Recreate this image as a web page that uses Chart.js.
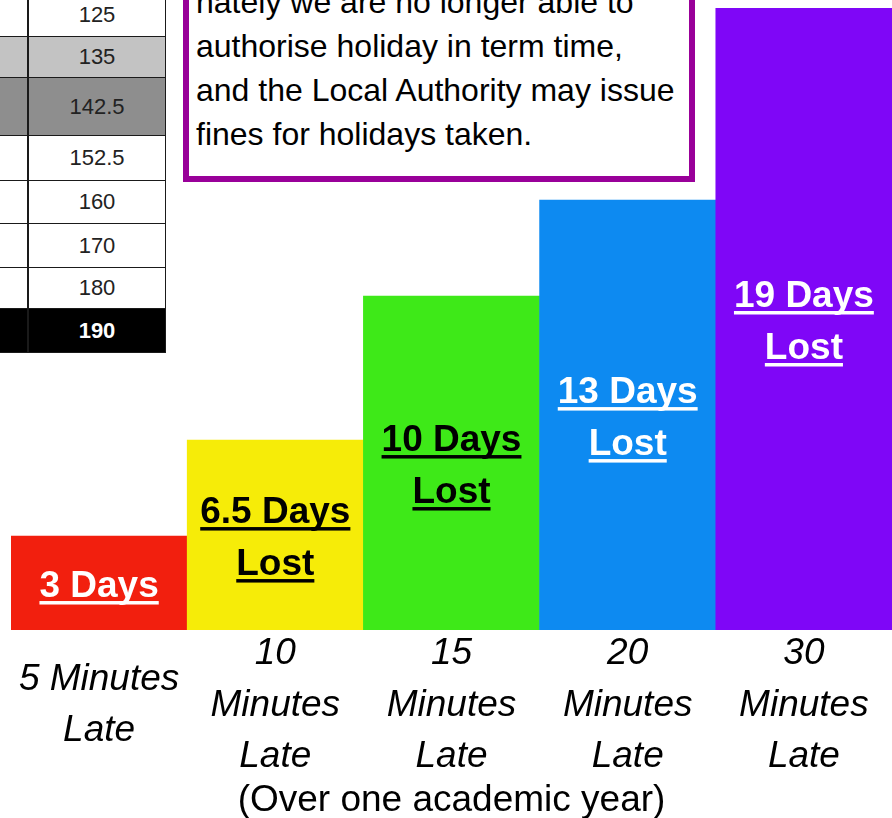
<!DOCTYPE html>
<html>
<head>
<meta charset="utf-8">
<script src="https://cdn.jsdelivr.net/npm/chart.js@4.4.0/dist/chart.umd.min.js"></script>
<style>
  html, body { margin: 0; padding: 0; background: #fff; overflow: hidden; }
  #wrap { position: relative; width: 892px; height: 818px; overflow: hidden; }
  #chart { position: absolute; left: 0; top: 0; }
  #note {
    position: absolute; left: 183px; top: -120px; width: 512px; height: 302px;
    box-sizing: border-box; border: 6px solid #990099; background: #fff;
  }
  #noteText {
    position: absolute; left: 196px; top: -20px;
    font: 32px/44px "Liberation Sans", Arial, sans-serif; color: #000; white-space: nowrap;
  }
  .cell {
    position: absolute; box-sizing: border-box; border: 1px solid #1a1a1a;
    font: 22px "Liberation Sans", Arial, sans-serif; color: #222;
    display: flex; align-items: center; justify-content: center;
  }
</style>
</head>
<body>
<div id="wrap">
  <canvas id="chart" width="892" height="818"></canvas>
  <div id="table"></div>
  <div id="note"></div>
  <div id="noteText">nately we are no longer able to<br>authorise holiday in term time,<br>and the Local Authority may issue<br>fines for holidays taken.</div>
</div>
<script>
// chart data
const minuteLabels = [['5 Minutes', 'Late'], ['10', 'Minutes', 'Late'], ['15', 'Minutes', 'Late'], ['20', 'Minutes', 'Late'], ['30', 'Minutes', 'Late']];
const daysLost = [3, 6.5, 10, 13, 19];
// bar heights as drawn in the picture (in days)
const barHeights = [2.87, 5.8, 10.2, 13.13, 19];
const barColors = ['#f21f0e', '#f6ec08', '#3ee918', '#0d8af1', '#7f06f7'];
const labelColors = ['#ffffff', '#000000', '#000000', '#ffffff', '#ffffff'];
const axisTitle = '(Over one academic year)';

// height table on the left
const tableValues = ['125', '135', '142.5', '152.5', '160', '170', '180', '190'];
const tableFills = ['#ffffff', '#c3c3c3', '#8e8e8e', '#ffffff', '#ffffff', '#ffffff', '#ffffff', '#000000'];
const rowTops = [-8, 36, 77, 135, 180, 223, 267, 308, 352];

const tbl = document.getElementById('table');
tableValues.forEach((v, i) => {
  const h = rowTops[i + 1] - rowTops[i] + 1;
  const left = document.createElement('div');
  left.className = 'cell';
  left.style.cssText = `left:-10px;top:${rowTops[i]}px;width:39px;height:${h}px;background:${tableFills[i]};border-width:1px 2px 1px 1px`;
  tbl.appendChild(left);
  const right = document.createElement('div');
  right.className = 'cell';
  right.style.cssText = `left:28px;top:${rowTops[i]}px;width:138px;height:${h}px;background:${tableFills[i]};border-width:1px 1px 1px 1px`;
  if (tableFills[i] === '#000000') { right.style.color = '#fff'; right.style.fontWeight = 'bold'; }
  right.textContent = v;
  tbl.appendChild(right);
});

const FONT = '"Liberation Sans", Arial, sans-serif';

const barLabels = {
  id: 'barLabels',
  afterDatasetsDraw(chart) {
    const ctx = chart.ctx;
    const meta = chart.getDatasetMeta(0);
    ctx.save();
    ctx.font = 'bold 37px ' + FONT;
    ctx.textAlign = 'center';
    ctx.textBaseline = 'alphabetic';
    meta.data.forEach((bar, i) => {
      const { x, y, base } = bar.getProps(['x', 'y', 'base'], true);
      const lines = i === 0 ? [daysLost[i] + ' Days'] : [daysLost[i] + ' Days', 'Lost'];
      const mid = (y + base) / 2 + 2;
      ctx.fillStyle = labelColors[i];
      lines.forEach((t, j) => {
        const baseline = mid + (j - (lines.length - 1) / 2) * 52 + 12;
        ctx.fillText(t, x, baseline);
        const w = ctx.measureText(t).width;
        ctx.fillRect(x - w / 2, baseline + 4, w, 3.5);
      });
    });
    ctx.restore();
  }
};

new Chart(document.getElementById('chart'), {
  type: 'bar',
  data: {
    labels: minuteLabels,
    datasets: [{
      data: barHeights,
      backgroundColor: barColors,
      borderWidth: 0,
      barPercentage: 1,
      categoryPercentage: 1
    }]
  },
  options: {
    responsive: false,
    animation: false,
    layout: { padding: { left: 11, right: 0, top: 8, bottom: 0 } },
    plugins: { legend: { display: false }, tooltip: { enabled: false } },
    scales: {
      x: {
        grid: { display: false },
        border: { display: false },
        ticks: {
          color: '#000',
          font: { family: FONT, size: 37, style: 'italic', lineHeight: 1.39 },
          padding: 16,
          crossAlign: 'center',
          maxRotation: 0,
          minRotation: 0,
          autoSkip: false
        },
        title: {
          display: true,
          text: axisTitle,
          color: '#000',
          font: { family: FONT, size: 37, lineHeight: 1 },
          padding: { top: 0, bottom: -1 }
        },
        afterFit(scale) { scale.height = 188; }
      },
      y: { display: false, min: 0, max: 19 }
    }
  },
  plugins: [barLabels]
});
</script>
</body>
</html>
